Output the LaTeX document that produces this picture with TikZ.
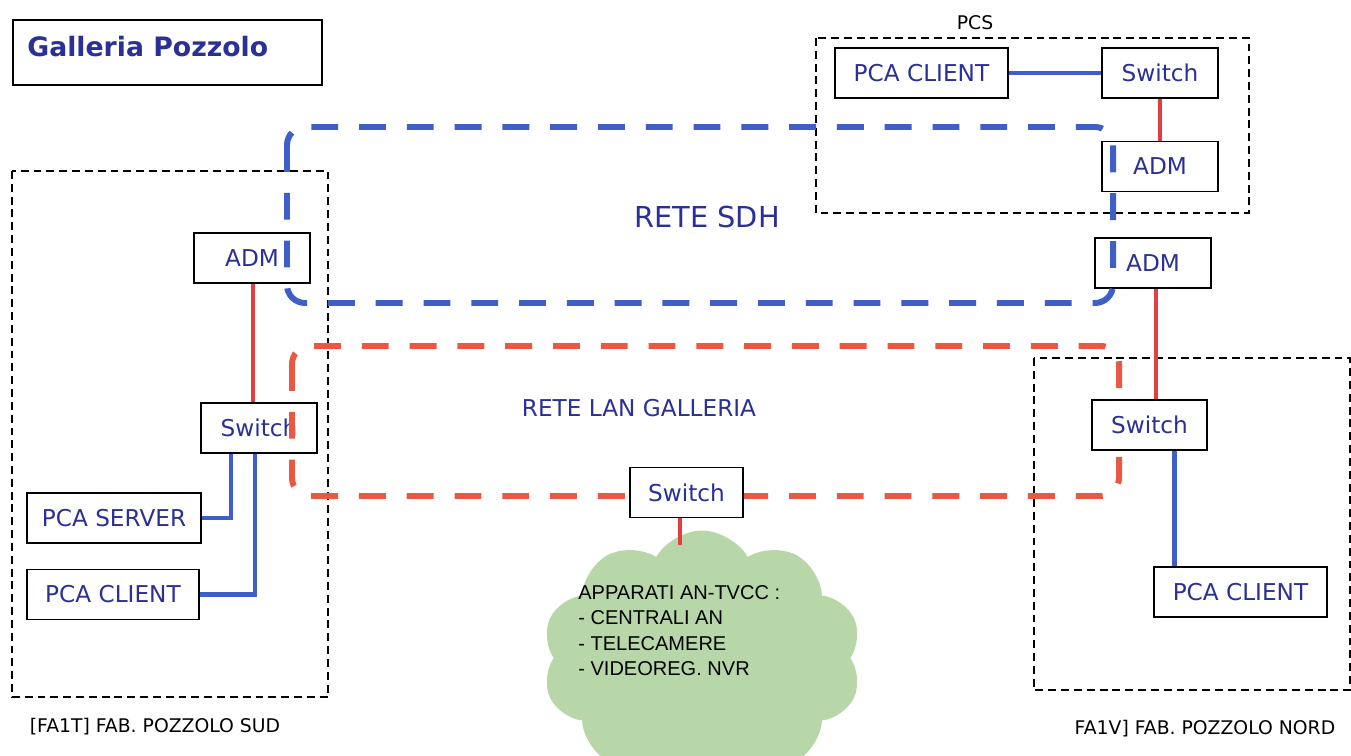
\documentclass[tikz,border=0pt]{standalone}
\usepackage{fontspec}
\setmainfont{DejaVu Sans}
\newfontfamily\cloudfont{Liberation Sans}
\usetikzlibrary{shapes.symbols}

\definecolor{labelblue}{RGB}{42,48,150}
\definecolor{netblue}{RGB}{62,94,200}
\definecolor{netred}{RGB}{233,88,66}
\definecolor{linkred}{RGB}{229,62,62}
\definecolor{linkblue}{RGB}{62,94,200}
\definecolor{cloudgreen}{RGB}{183,215,168}

\begin{document}
\begin{tikzpicture}[x=0.02cm, y=-0.02cm,
  devbox/.style={draw=black, line width=1.1pt, minimum height=1cm, inner sep=0pt,
    text=labelblue, font=\fontsize{13.2}{16}\selectfont},
  areabox/.style={draw=black, line width=1.1pt, dash pattern=on 4.5pt off 2.8pt},
  arealabel/.style={font=\fontsize{10.7}{13}\selectfont, text=black, inner sep=0pt, anchor=base},
  netlabel/.style={text=labelblue, inner sep=0pt, anchor=base},
  sdhring/.style={draw=netblue, line width=3.4pt, dash pattern=on 15.3pt off 11.9pt, rounded corners=0.36cm},
  lanring/.style={draw=netred, line width=3.4pt, dash pattern=on 15.3pt off 11.9pt, rounded corners=0.36cm},
  redlink/.style={draw=linkred, line width=2.8pt},
  bluelink/.style={draw=linkblue, line width=2.4pt},
]
\useasboundingbox (0,0) rectangle (1351,756);

% title
\node[draw=black, line width=1.1pt, minimum width=6.18cm, minimum height=1.3cm] (titlebox) at (167.5,52.5) {};
\node[anchor=base west, inner sep=0pt, text=labelblue, font=\bfseries\fontsize{15.2}{18}\selectfont] (titletext) at (27,57) {Galleria Pozzolo};

% site areas
\draw[areabox] (12,171) rectangle (328,697);
\draw[areabox] (816,38) rectangle (1249,213);
\draw[areabox] (1034,358) rectangle (1350,690);
\node[arealabel] (pcslabel) at (975,30) {PCS};
\node[arealabel] (sudlabel) at (155,732) {[FA1T] FAB. POZZOLO SUD};
\node[arealabel] (nordlabel) at (1205,734) {FA1V] FAB. POZZOLO NORD};

% field devices cloud
\begin{scope}
  \clip (0,0) rectangle (1351,756);
  \node[cloud, cloud puffs=10, cloud puff arc=120, cloud ignores aspect, fill=cloudgreen, draw=none,
        minimum width=6.4cm, minimum height=5.1cm] (cloud) at (702,658) {};
\end{scope}
\node[anchor=north west, inner sep=0pt, align=left, text=black,
      font=\cloudfont\fontsize{11.4}{14.5}\selectfont] (cloudtext) at (578,585)
  {APPARATI AN-TVCC :\\- CENTRALI AN\\- TELECAMERE\\- VIDEOREG. NVR};
\coordinate (cloudtop) at (680,545);

% PCS devices
\node[devbox, minimum width=3.46cm] (pcsclient) at (921.5,73) {PCA CLIENT};
\node[devbox, minimum width=2.32cm] (pcsswitch) at (1160,73) {Switch};
\node[devbox, minimum width=2.32cm] (pcsadm) at (1160,166.5) {ADM};

% north site devices
\node[devbox, minimum width=2.32cm] (radm) at (1153,263) {ADM};
\node[devbox, minimum width=3.46cm] (rclient) at (1240.5,592) {PCA CLIENT};

% south site devices
\node[devbox, minimum width=2.32cm] (ladm) at (252,258) {ADM};
\node[devbox, minimum width=2.32cm] (lswitch) at (259,428) {Switch};
\node[devbox, minimum width=3.48cm] (lserver) at (114,518) {PCA SERVER};
\node[devbox, minimum width=3.44cm] (lclient) at (113,594.5) {PCA CLIENT};

% network rings
\draw[sdhring] (287,127) rectangle (1113,303);
\draw[lanring] (292,346) rectangle (1119,496);
\node[netlabel, font=\fontsize{16.4}{20}\selectfont] (sdhlabel) at (707,228) {RETE SDH};
\node[netlabel, font=\fontsize{13.2}{16}\selectfont] (lanlabel) at (639,417) {RETE LAN GALLERIA};

% switches sitting on the LAN ring
\node[devbox, fill=white, minimum width=2.3cm] (rswitch) at (1149.5,425) {Switch};
\node[devbox, fill=white, minimum width=2.26cm] (mswitch) at (686.5,492.5) {Switch};

% links
\draw[bluelink] (pcsclient.east) -- (pcsswitch.west);
\draw[redlink] (pcsswitch.south) -- (pcsadm.north);
\draw[redlink] ([xshift=0.06cm]radm.south) -- ([xshift=0.06cm]radm.south |- rswitch.north);
\draw[bluelink] ([xshift=0.5cm]rswitch.south) -- ([xshift=0.5cm]rswitch.south |- rclient.north);
\draw[redlink] ([xshift=0.02cm]ladm.south) -- ([xshift=0.02cm]ladm.south |- lswitch.north);
\draw[bluelink] ([xshift=-0.56cm]lswitch.south) |- (lserver.east);
\draw[bluelink] ([xshift=-0.08cm]lswitch.south) |- (lclient.east);
\draw[redlink] (mswitch.south -| cloudtop) -- (cloudtop);
\end{tikzpicture}
\end{document}
